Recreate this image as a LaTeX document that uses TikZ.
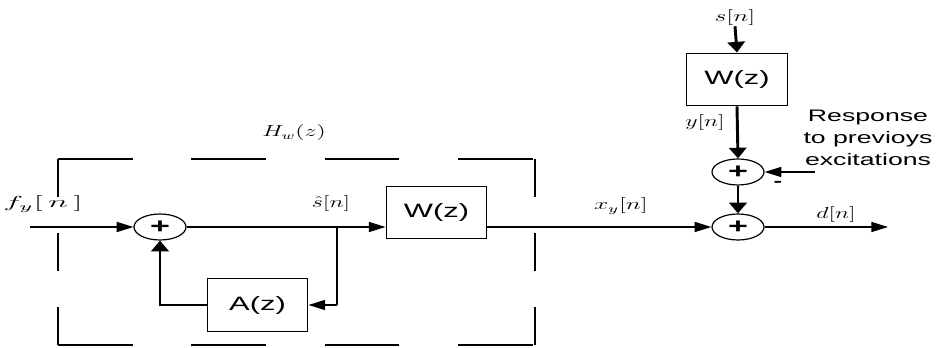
\documentclass[tikz,border=0pt]{standalone}
\usepackage{fontspec}
\usepackage{graphicx}
\setsansfont{Liberation Sans}
\usetikzlibrary{arrows.meta,shapes.geometric}

% the whole drawing is stretched sideways, so is its lettering
\newcommand{\wide}[2][1.6]{\scalebox{#1}[1]{#2}}

\tikzset{
  blk/.style={draw, line width=0.9pt, minimum width=75.5pt, minimum height=39.5pt,
    inner sep=0pt, font=\sffamily\fontsize{14.5}{16}\selectfont},
  summer/.style={ellipse, draw, line width=0.9pt, minimum width=39pt, minimum height=19.5pt,
    inner sep=0pt, font=\sffamily\bfseries\fontsize{16}{16}\selectfont},
  sig/.style={line width=1.1pt},
  fat/.style={line width=2.2pt},
  harr/.style={-{Triangle[length=12.5pt,width=7.5pt]}},
  varr/.style={-{Triangle[length=8pt,width=13pt]}},
  lbl/.style={inner sep=0pt, font=\fontsize{12}{13}\selectfont},
  hdash/.style={line width=1pt, dash pattern=on 56pt off 44pt},
  vdash/.style={line width=1.8pt, dash pattern=on 28.5pt off 27pt},
}

\begin{document}
\begin{tikzpicture}[x=0.75pt, y=-0.75pt]
    \useasboundingbox (0,0) rectangle (938,348);

    % Blocks and adders
    \node[summer] (sumA) at (160,227) {\wide{+}};
    \node[blk] (Az) at (257.5,305) {\wide{A(z)}};
    \node[blk] (Wa) at (436.5,212.5) {\wide{W(z)}};
    \node[blk] (Wb) at (737,79.5) {\wide{W(z)}};
    \node[summer] (sumB) at (738,172) {\wide{+}};
    \node[summer] (sumC) at (738,227) {\wide{+}};

    % Free ends of the signal lines
    \coordinate (in) at (30,227);
    \coordinate (tap) at (337,227);
    \coordinate (prev) at (815,172);
    \coordinate (out) at (888,227);

    % Dashed frame of H_w(z)
    \draw[hdash] (58,159) -- (535,159);
    \draw[hdash] (58,345) -- (535,345);
    \draw[vdash] (58,159) -- (58,345);
    \draw[vdash] (535,159) -- (535,345);

    % Forward path
    \draw[sig,harr] (in) -- (sumA.west);
    \draw[sig,harr] (sumA.east) -- (sumA.east -| Wa.west);
    \draw[sig,harr] (sumC.west -| Wa.east) -- (sumC.west);
    \draw[sig,harr] (sumC.east) -- (out);

    % Feedback through A(z)
    \draw[sig] (tap) -- (tap |- Az.east);
    \draw[sig,harr] (tap |- Az.east) -- (Az.east);
    \draw[fat,varr] (Az.west) -| (sumA.south);

    % Right-hand branch
    \node[lbl] (sn) at (735,18) {\wide{$s[n]$}};
    \draw[fat,varr] (sn.south) -- (Wb.north);
    \draw[fat,varr] (Wb.south) -- (sumB.north);
    \draw[fat,varr] (sumB.south) -- (sumC.north);
    \draw[sig,harr] (prev) -- (sumB.east);

    % Labels
    \node[lbl] (fy) at (43,204) {\wide[2.1]{$f_y[\,n\,]$}};
    \node[lbl] (Hw) at (294,133) {\wide[1.5]{$H_w(z)$}};
    \node[lbl] (sh) at (331,204) {\wide[1.5]{$\hat{s}[n]$}};
    \node[lbl] (xy) at (621,206) {\wide{$x_y[n]$}};
    \node[lbl] (yn) at (705,123) {\wide[1.5]{$y[n]$}};
    \node[lbl] (dn) at (836,215) {\wide[1.5]{$d[n]$}};
    \node[inner sep=0pt, font=\sffamily\bfseries\fontsize{12}{12}\selectfont] (minus) at (778,184) {\wide{-}};
    \node[inner sep=0pt, font=\sffamily\fontsize{12.5}{16.5}\selectfont] (resp) at (868,139)
        {\wide{\begin{tabular}{@{}c@{}}Response\\to previoys\\excitations\end{tabular}}};
\end{tikzpicture}
\end{document}
